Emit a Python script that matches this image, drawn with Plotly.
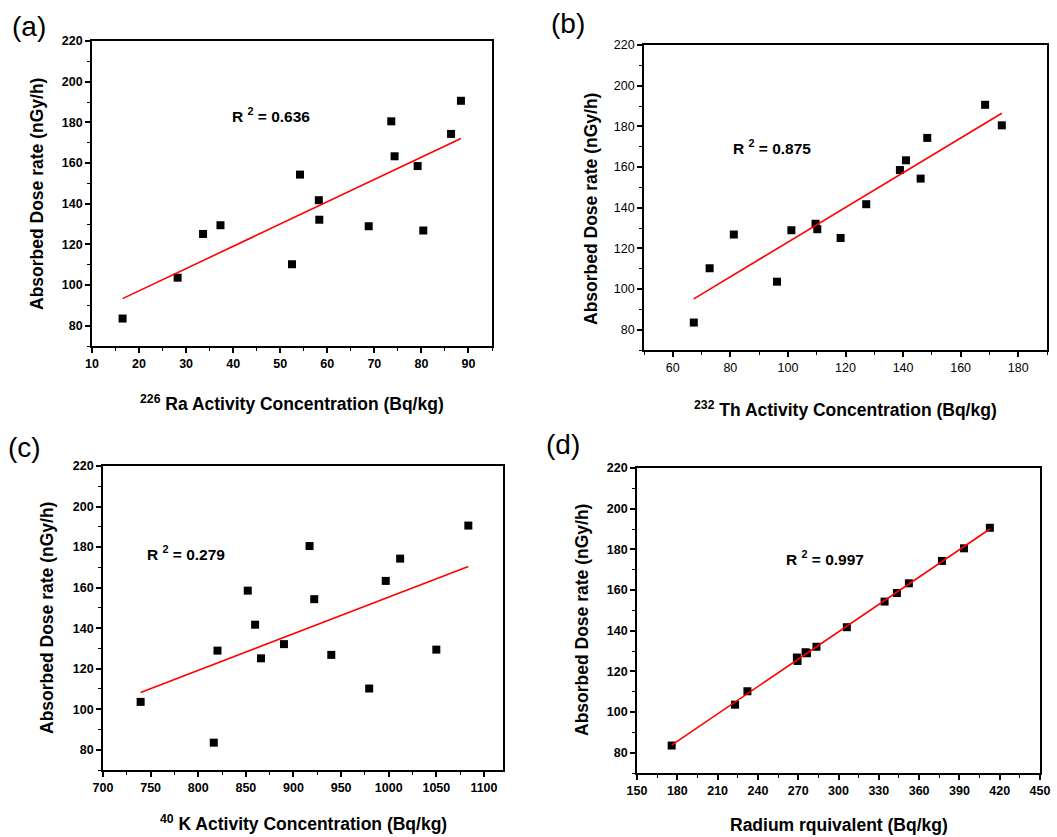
import numpy as np
import plotly.graph_objects as go

W, H = 1057, 837

# Absorbed dose rate (nGy/h), shared across panels (same samples)
dose = [83.5, 103.6, 110.2, 125.1, 126.8, 128.9, 129.4, 132.1, 141.7, 154.3, 158.5, 163.3, 174.3, 180.5, 190.6]
# 226Ra activity (Bq/kg)
ra = [16.5, 28.2, 52.5, 33.6, 80.4, 68.8, 37.3, 58.3, 58.2, 54.2, 79.2, 74.3, 86.3, 73.6, 88.4]
# 232Th activity (Bq/kg)
th = [67.3, 96.2, 72.8, 118.3, 81.2, 101.2, 110.2, 109.6, 127.2, 146.1, 138.9, 141.0, 148.4, 174.3, 168.5]
# 40K activity (Bq/kg)
k40 = [816.3, 739.5, 979.5, 865.9, 939.7, 820.2, 1050.0, 890.0, 859.7, 921.8, 852.0, 996.9, 1012.0, 916.9, 1083.6]
# Radium equivalent (Bq/kg)
raeq = [175.8, 223.0, 232.2, 269.5, 269.0, 276.5, 275.5, 283.6, 306.2, 334.3, 343.5, 352.4, 377.0, 393.4, 412.7]

r2_labels = ["0.636", "0.875", "0.279", "0.997"]
panel_labels = ["(a)", "(b)", "(c)", "(d)"]
x_titles = ["<sup>226</sup> Ra Activity Concentration (Bq/kg)",
            "<sup>232</sup> Th Activity Concentration (Bq/kg)",
            "<sup>40</sup> K Activity Concentration (Bq/kg)",
            "Radium rquivalent (Bq/kg)"]
y_title = "Absorbed Dose rate (nGy/h)"

xs = [ra, th, k40, raeq]

# layout geometry in pixels: (left, right, top, bottom)
boxes = [(92, 492, 41, 346), (644, 1047, 45, 350), (103, 503, 466, 770), (637, 1040, 468, 773)]
x_ranges = [[10, 95], [50, 190], [700, 1120], [150, 450]]
x_dticks = [10, 20, 50, 30]
x_minor = [5, 10, 25, 15]
x_tick0 = [10, 60, 700, 150]
tick_bold = [True, False, True, True]

ytitle_pos = [(37, 194), (591, 209), (47, 618), (582, 620)]
xtitle_pos = [(292, 403), (845, 409), (303, 823), (839, 825)]
r2_pos = [(271, 115), (772, 147), (186, 133 + 420), (825, 558)]
plabel_pos = [(29, 26), (568, 23), (24, 447), (563, 445)]

FONT = "Liberation Sans, Arial, sans-serif"

fig = go.Figure()
layout = dict(width=W, height=H, margin=dict(l=0, r=0, t=0, b=0, pad=0),
              paper_bgcolor="white", plot_bgcolor="white", showlegend=False)
annotations = []

def px(x):
    return x / W

def py(y):
    return 1 - y / H

for i in range(4):
    sfx = "" if i == 0 else str(i + 1)
    xa, ya = "x" + sfx, "y" + sfx
    x = np.array(xs[i], dtype=float)
    y = np.array(dose, dtype=float)
    fig.add_trace(go.Scatter(x=x, y=y, mode="markers", xaxis=xa, yaxis=ya,
                             marker=dict(symbol="square", size=8, color="black",
                                         line=dict(width=0))))
    m, b = np.polyfit(x, y, 1)
    lx = np.array([x.min(), x.max()])
    fig.add_trace(go.Scatter(x=lx, y=m * lx + b, mode="lines", xaxis=xa, yaxis=ya,
                             line=dict(color="#ff0000", width=1.6)))
    l, r, t, bt = boxes[i]
    tf = dict(family=FONT, size=12.5, color="black", weight="bold" if tick_bold[i] else "normal")
    layout["xaxis" + sfx] = dict(domain=[px(l), px(r)], anchor=ya, range=x_ranges[i],
                                 automargin=False,
                                 tick0=x_tick0[i], dtick=x_dticks[i], ticks="outside",
                                 ticklen=5, tickwidth=1.5, tickcolor="black",
                                 showline=True, linecolor="black", linewidth=1.8, mirror=True,
                                 showgrid=False, zeroline=False, tickfont=tf,
                                 minor=dict(ticks="outside", ticklen=3, tickwidth=1.2,
                                            dtick=x_minor[i], tick0=x_tick0[i], tickcolor="black",
                                            showgrid=False))
    layout["yaxis" + sfx] = dict(domain=[py(bt), py(t)], anchor=xa, range=[70, 220],
                                 automargin=False,
                                 tick0=80, dtick=20, ticks="outside",
                                 ticklen=5, tickwidth=1.5, tickcolor="black",
                                 showline=True, linecolor="black", linewidth=1.8, mirror=True,
                                 showgrid=False, zeroline=False, tickfont=tf,
                                 minor=dict(ticks="outside", ticklen=3, tickwidth=1.2,
                                            dtick=10, tick0=70, tickcolor="black",
                                            showgrid=False))
    # axis titles
    annotations.append(dict(text="<b>" + y_title + "</b>", x=px(ytitle_pos[i][0]), y=py(ytitle_pos[i][1]),
                            xref="paper", yref="paper", showarrow=False, textangle=-90,
                            xanchor="center", yanchor="middle",
                            font=dict(family=FONT, size=17.5, color="black")))
    annotations.append(dict(text="<b>" + x_titles[i] + "</b>", x=px(xtitle_pos[i][0]), y=py(xtitle_pos[i][1]),
                            xref="paper", yref="paper", showarrow=False,
                            xanchor="center", yanchor="middle",
                            font=dict(family=FONT, size=17.5, color="black")))
    annotations.append(dict(text="<b>R <sup>2</sup> = " + r2_labels[i] + "</b>",
                            x=px(r2_pos[i][0]), y=py(r2_pos[i][1]),
                            xref="paper", yref="paper", showarrow=False,
                            xanchor="center", yanchor="middle",
                            font=dict(family=FONT, size=15.5, color="black")))
    annotations.append(dict(text=panel_labels[i], x=px(plabel_pos[i][0]), y=py(plabel_pos[i][1]),
                            xref="paper", yref="paper", showarrow=False,
                            xanchor="center", yanchor="middle",
                            font=dict(family=FONT, size=28, color="black")))

layout["annotations"] = annotations
fig.update_layout(**layout)
fig.write_html("out.html",
               post_script="document.body.style.margin='0';document.body.style.overflow='hidden';")
